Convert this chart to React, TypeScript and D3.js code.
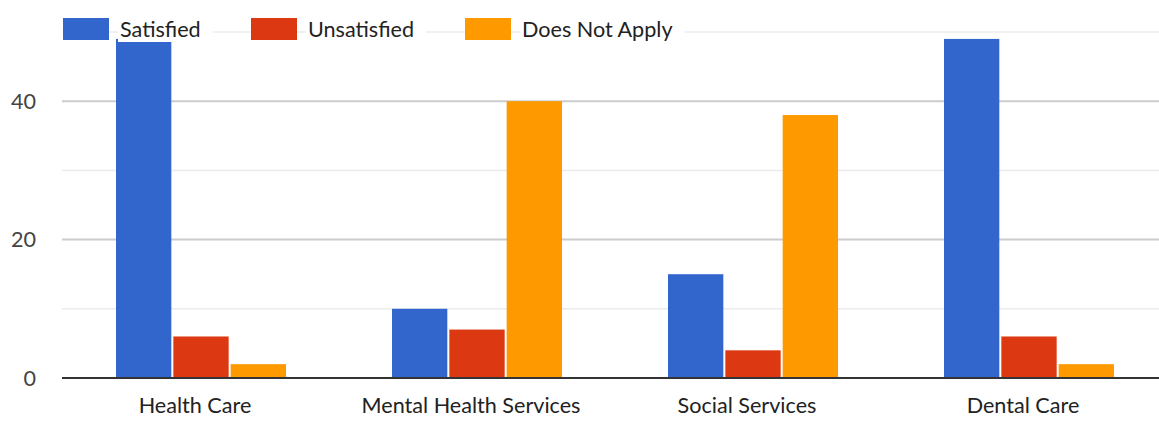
import React, { useEffect, useRef } from "react";
import * as d3 from "d3";

const categories = ["Health Care", "Mental Health Services", "Social Services", "Dental Care"];
const seriesNames = ["Satisfied", "Unsatisfied", "Does Not Apply"];
const satisfied = [49, 10, 15, 49];
const unsatisfied = [6, 7, 4, 6];
const doesNotApply = [2, 40, 38, 2];
const yTicks = [0, 20, 40];
const minorTicks = [10, 30, 50];
const colors = ["#3366cc", "#dc3912", "#ff9900"];

const W = 1159;
const H = 423;
const FONT = "Lato, 'Open Sans', sans-serif";
const FS = 21.6;

export default function App() {
  const ref = useRef<SVGSVGElement | null>(null);

  useEffect(() => {
    const svg = d3.select(ref.current);
    svg.selectAll("*").remove();
    const values = [satisfied, unsatisfied, doesNotApply];

    const y = d3.scaleLinear().domain([0, 50]).range([378, 32]);
    const x = d3.scaleBand<string>().domain(categories).range([63, 1167]).paddingInner(0.384).paddingOuter(0.192);
    const xs = d3.scaleBand<string>().domain(seriesNames).range([0, x.bandwidth()]).paddingInner(0.035);

    const gridLeft = 62;
    svg.append("g").selectAll("line").data(minorTicks).join("line")
      .attr("x1", gridLeft).attr("x2", W)
      .attr("y1", (d) => y(d)).attr("y2", (d) => y(d))
      .attr("stroke", "#ebebeb").attr("stroke-width", 1.5);
    svg.append("g").selectAll("line").data(yTicks.filter((t) => t !== 0)).join("line")
      .attr("x1", gridLeft).attr("x2", W)
      .attr("y1", (d) => y(d)).attr("y2", (d) => y(d))
      .attr("stroke", "#cccccc").attr("stroke-width", 2);

    svg.append("g").selectAll("text").data(yTicks).join("text")
      .attr("x", 36).attr("y", (d) => y(d))
      .attr("dy", "0.35em")
      .attr("text-anchor", "end")
      .attr("font-family", FONT).attr("font-size", FS)
      .attr("fill", "#444")
      .text((d) => String(d));

    const groups = svg.append("g").selectAll("g").data(categories).join("g")
      .attr("transform", (c) => `translate(${x(c)},0)`);
    groups.selectAll("rect")
      .data((c) => seriesNames.map((s, si) => ({ s, si, v: values[si][categories.indexOf(c)] })))
      .join("rect")
      .attr("x", (d) => xs(d.s)!)
      .attr("width", xs.bandwidth())
      .attr("y", (d) => y(d.v))
      .attr("height", (d) => y(0) - y(d.v))
      .attr("fill", (d) => colors[d.si]);

    svg.append("line")
      .attr("x1", gridLeft).attr("x2", W)
      .attr("y1", y(0)).attr("y2", y(0))
      .attr("stroke", "#333").attr("stroke-width", 2);

    svg.append("g").selectAll("text").data(categories).join("text")
      .attr("x", (c) => x(c)! + x.bandwidth() / 2 - 6)
      .attr("y", 413)
      .attr("text-anchor", "middle")
      .attr("font-family", FONT).attr("font-size", FS)
      .attr("fill", "#222")
      .text((c) => c);

    const legendX = [63, 251, 465];
    const lg = svg.append("g");
    seriesNames.forEach((s, i) => {
      const g = lg.append("g").attr("transform", `translate(${legendX[i]},0)`);
      const bg = g.append("rect").attr("fill", "#fff");
      g.append("rect").attr("x", 0).attr("y", 18).attr("width", 46).attr("height", 22).attr("fill", colors[i]);
      const t = g.append("text")
        .attr("x", 57).attr("y", 37)
        .attr("font-family", FONT).attr("font-size", FS)
        .attr("fill", "#222")
        .text(s);
      const len = (t.node() as SVGTextElement).getComputedTextLength();
      bg.attr("x", 55).attr("y", 18).attr("width", len + 14).attr("height", 24);
    });
  }, []);

  return (
    <svg
      ref={ref}
      width={W}
      height={H}
      style={{ position: "absolute", left: 0, top: 0, background: "#fff" }}
    />
  );
}
